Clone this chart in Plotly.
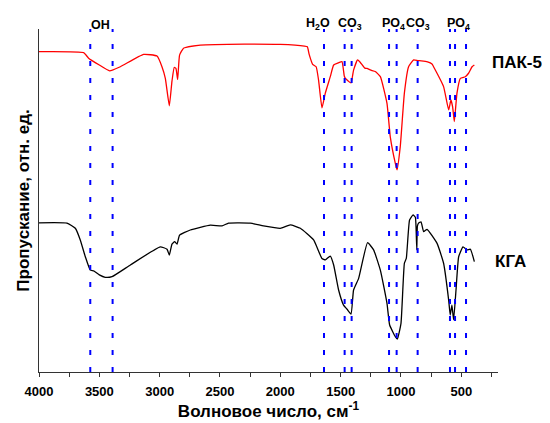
import plotly.graph_objects as go

# ПАК-5 (red) spectrum: wavenumber (cm-1) and transmittance (arb. units)
pak_wn = [4000, 3630, 3589, 3500, 3415, 3326, 3133, 3022, 2981, 2953, 2920, 2898, 2879, 2865,
          2851, 2835, 2802, 2663, 2300, 2000, 1800, 1776, 1761, 1732, 1703, 1683, 1655, 1627,
          1586, 1558, 1520, 1489, 1470, 1461, 1414, 1393, 1360, 1340, 1300, 1282, 1250, 1213,
          1171, 1116, 1089, 1047, 1033, 1006, 972, 937, 895, 860, 832, 780, 743, 730, 647,
          605, 586, 572, 558, 536, 508, 467, 440, 411, 392]
pak_t = [93.4, 93.1, 91.5, 89.5, 87.8, 89.0, 92.6, 92.1, 89.0, 85.6, 77.6, 84.8, 88.8, 88.5,
         85.3, 92.4, 94.4, 95.3, 95.6, 95.5, 95.0, 94.8, 92.6, 89.7, 89.0, 85.1, 77.0, 81.3,
         86.1, 89.5, 90.1, 90.5, 86.3, 85.6, 84.3, 88.0, 91.0, 90.4, 88.6, 88.5, 88.0, 87.6,
         86.1, 78.3, 68.6, 60.8, 58.9, 65.7, 81.3, 89.0, 91.0, 90.8, 90.7, 90.4, 89.8, 89.0, 83.2,
         76.4, 79.3, 77.3, 73.0, 81.3, 85.6, 86.1, 87.1, 89.0, 89.5]

# КГА (black) spectrum
kga_wn = [4000, 3768, 3699, 3658, 3616, 3575, 3547, 3500, 3451, 3395, 3243, 2995, 2939, 2920,
          2898, 2876, 2856, 2835, 2746, 2580, 2483, 2429, 2249, 2139, 2000, 1917, 1834, 1724,
          1655, 1627, 1586, 1558, 1517, 1476, 1447, 1414, 1393, 1351, 1277, 1227, 1171, 1116,
          1094, 1047, 1030, 1000, 972, 956, 929, 900, 881, 875, 869, 864, 854, 834, 812, 784,
          701, 647, 605, 592, 578, 564, 544, 522, 486, 453, 425, 392]
kga_t = [43.5, 43.4, 41.9, 38.5, 33.6, 29.7, 29.5, 28.3, 27.6, 27.8, 31.2, 36.5, 35.8, 34.1,
         37.3, 38.0, 37.3, 39.9, 41.4, 42.8, 42.6, 43.4, 43.4, 42.6, 41.9, 42.9, 41.9, 38.5,
         33.1, 32.7, 33.8, 31.2, 23.9, 19.5, 18.3, 16.9, 23.9, 27.3, 37.7, 35.6, 29.7, 20.0,
         13.7, 10.3, 9.6, 14.2, 31.7, 33.1, 44.3, 45.8, 45.1, 42.0, 35.6, 42.5, 43.4, 43.8, 40.9, 41.6,
         37.5, 31.7, 21.0, 16.6, 19.5, 15.2, 23.9, 33.6, 36.5, 35.6, 35.8, 32.2]

# band marker positions (cm-1)
band_lines = [3575, 3390, 1638, 1467, 1409, 1099, 1036, 862, 594, 552, 461]

# band labels
band_label_text = ["OH", "H<sub>2</sub>O", "CO<sub>3</sub>", "PO<sub>4</sub>",
                   "CO<sub>3</sub>", "PO<sub>4</sub>"]
band_label_x = [3492, 1689, 1424, 1060, 858, 521]

series_names = ["ПАК-5", "КГА"]
x_ticks = [4000, 3500, 3000, 2500, 2000, 1500, 1000, 500]

FONT = "Liberation Sans, Arial, sans-serif"

fig = go.Figure()
fig.add_trace(go.Scatter(x=pak_wn, y=pak_t, mode="lines", name=series_names[0],
                         line=dict(color="#ff0000", width=1.3, shape="spline", smoothing=0.4)))
fig.add_trace(go.Scatter(x=kga_wn, y=kga_t, mode="lines", name=series_names[1],
                         line=dict(color="#000000", width=1.3, shape="spline", smoothing=0.4)))

for xv in band_lines:
    fig.add_shape(type="line", xref="x", yref="paper", x0=xv, x1=xv, y0=0, y1=1,
                  line=dict(color="#0000ff", width=2, dash="5px,12px"), layer="above")

for txt, xv in zip(band_label_text, band_label_x):
    fig.add_annotation(x=xv, xref="x", y=0.984, yref="paper", yanchor="bottom",
                       xanchor="center", text="<b>" + txt + "</b>", showarrow=False,
                       font=dict(family=FONT, size=12.5, color="black"))

fig.add_annotation(x=0.983, xref="paper", y=0.901, yref="paper", xanchor="left",
                   yanchor="middle", text="<b>" + series_names[0] + "</b>", showarrow=False,
                   font=dict(family=FONT, size=17, color="black"))
fig.add_annotation(x=0.99, xref="paper", y=0.321, yref="paper", xanchor="left",
                   yanchor="middle", text="<b>" + series_names[1] + "</b>", showarrow=False,
                   font=dict(family=FONT, size=17, color="black"))

# the page body adds an 8 px offset; the figure is sized so the plot sits where the reference's does
fig.update_layout(
    width=542, height=415,
    margin=dict(l=31, r=52, t=21, b=51),
    paper_bgcolor="white", plot_bgcolor="white",
    showlegend=False,
    font=dict(family=FONT, color="black"),
    xaxis=dict(range=[4000, 196], tickvals=x_ticks, ticktext=[str(v) for v in x_ticks],
               automargin=False,
               showline=True, linecolor="#333333", linewidth=1.2, mirror=False,
               ticks="outside", ticklen=4, tickwidth=1, tickcolor="#333333",
               ticklabelstandoff=3,
               minor=dict(dtick=250, tick0=0, ticks="outside", ticklen=4, tickcolor="#333333"),
               showgrid=False, zeroline=False,
               tickfont=dict(family=FONT, size=13, color="black", weight="bold"),
               title=dict(text="<b>Волновое число, см<sup>-1</sup></b>", standoff=4,
                          font=dict(family=FONT, size=17, color="black"))),
    yaxis=dict(range=[0, 100], showline=True, linecolor="#333333", linewidth=1.2,
               automargin=False,
               showticklabels=False, ticks="", showgrid=False, zeroline=False,
               title=dict(text="<b>Пропускание, отн. ед.</b>", standoff=3,
                          font=dict(family=FONT, size=17, color="black"))),
)

fig.write_html("out.html")
